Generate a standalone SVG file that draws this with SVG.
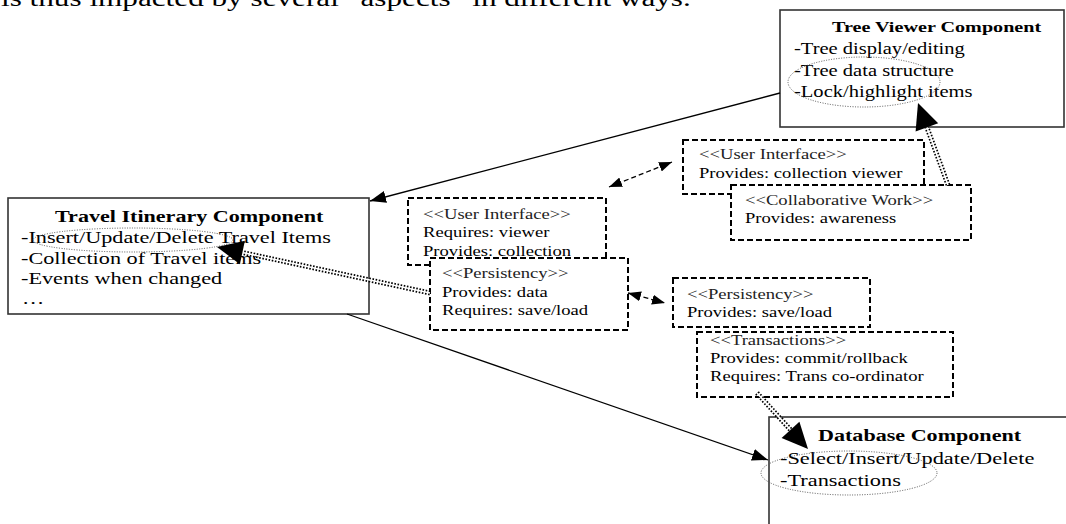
<svg xmlns="http://www.w3.org/2000/svg" width="1066" height="524" viewBox="0 0 1066 524">
<defs>
<style>
.t{font-family:"Liberation Serif","Times New Roman",serif;fill:#000}
.b{font-weight:bold}
.st{fill:#222}
.box{fill:#fff;stroke:#333;stroke-width:1.6}
.dbox{fill:#fff;stroke:#000;stroke-width:2;stroke-dasharray:6 3}
.ell{fill:none;stroke:#555;stroke-width:1;stroke-dasharray:1 1.5}
.ln{stroke:#000;stroke-width:1.3;fill:none}
.dl{stroke:#000;stroke-width:1.3;stroke-dasharray:5 3;fill:none}
.dd{stroke:#000;stroke-width:5;stroke-dasharray:1.6 1.6;fill:none}
.ddw{stroke:#fff;stroke-width:1.6;fill:none}
.ah{fill:#000}
</style>
<marker id="a" markerUnits="userSpaceOnUse" viewBox="0 0 16 12" refX="16" refY="6" markerWidth="16" markerHeight="12" orient="auto-start-reverse"><path d="M0,0L16,6L0,12z" fill="#000"/></marker>
<marker id="s" markerUnits="userSpaceOnUse" viewBox="0 0 13 10" refX="13" refY="5" markerWidth="13" markerHeight="10" orient="auto-start-reverse"><path d="M0,0L13,5L0,10z" fill="#000"/></marker>
</defs>
<rect width="1066" height="524" fill="#fff"/>

<text class="t" font-size="24" transform="translate(1 6) scale(1.3 1)">is thus impacted by several “aspects” in different ways.</text>

<g id="tree-viewer">
<rect class="box" x="780" y="10" width="284" height="117"/>
<text class="t b" font-size="15.5" transform="translate(832 32) scale(1.3 1)">Tree Viewer Component</text>
<text class="t" font-size="15.8" transform="translate(794 54) scale(1.3 1)">-Tree display/editing</text>
<text class="t" font-size="15.8" transform="translate(794 76) scale(1.3 1)">-Tree data structure</text>
<text class="t" font-size="15.8" transform="translate(794 97) scale(1.3 1)">-Lock/highlight items</text>
<ellipse class="ell" cx="864" cy="82" rx="76" ry="25"/>
</g>

<g id="travel-itinerary">
<rect class="box" x="8" y="198" width="361" height="116"/>
<text class="t b" font-size="17" transform="translate(55 222) scale(1.3 1)">Travel Itinerary Component</text>
<text class="t" font-size="17.1" transform="translate(21 243) scale(1.3 1)">-Insert/Update/Delete Travel Items</text>
<text class="t" font-size="17.1" transform="translate(21 264) scale(1.3 1)">-Collection of Travel items</text>
<text class="t" font-size="17.1" transform="translate(21 284) scale(1.3 1)">-Events when changed</text>
<text class="t" font-size="17.1" transform="translate(22 304) scale(1.3 1)">…</text>
<ellipse class="ell" cx="133" cy="240" rx="100" ry="12"/>
</g>

<g id="database">
<rect class="box" x="769" y="417" width="310" height="120"/>
<text class="t b" font-size="17" transform="translate(818 441) scale(1.3 1)">Database Component</text>
<text class="t" font-size="17.2" transform="translate(780 464) scale(1.3 1)">-Select/Insert/Update/Delete</text>
<text class="t" font-size="17.2" transform="translate(780 486) scale(1.3 1)">-Transactions</text>
<ellipse class="ell" cx="849" cy="473" rx="88" ry="22"/>
</g>

<g id="ui-right">
<rect class="dbox" x="683" y="140" width="241" height="54"/>
<text class="t st" font-size="14.3" transform="translate(699 159) scale(1.3 1)">&lt;&lt;User Interface&gt;&gt;</text>
<text class="t" font-size="14.3" transform="translate(699 178) scale(1.3 1)">Provides: collection viewer</text>
</g>
<g id="collab">
<rect class="dbox" x="731" y="185" width="240" height="55"/>
<text class="t st" font-size="14.3" transform="translate(745 205) scale(1.3 1)">&lt;&lt;Collaborative Work&gt;&gt;</text>
<text class="t" font-size="14.3" transform="translate(745 223) scale(1.3 1)">Provides: awareness</text>
</g>

<g id="ui-left">
<rect class="dbox" x="408" y="198" width="198" height="67"/>
<text class="t st" font-size="14.3" transform="translate(423 219) scale(1.3 1)">&lt;&lt;User Interface&gt;&gt;</text>
<text class="t" font-size="14.3" transform="translate(423 237) scale(1.3 1)">Requires: viewer</text>
<text class="t" font-size="14.3" transform="translate(423 256) scale(1.3 1)">Provides: collection</text>
</g>
<g id="persistency-left">
<rect class="dbox" x="430" y="258" width="198" height="72"/>
<text class="t st" font-size="14.3" transform="translate(442 278) scale(1.3 1)">&lt;&lt;Persistency&gt;&gt;</text>
<text class="t" font-size="14.3" transform="translate(442 297) scale(1.3 1)">Provides: data</text>
<text class="t" font-size="14.3" transform="translate(442 315) scale(1.3 1)">Requires: save/load</text>
</g>

<g id="persistency-right">
<rect class="dbox" x="673" y="278" width="197" height="49"/>
<text class="t st" font-size="14.3" transform="translate(687 299) scale(1.3 1)">&lt;&lt;Persistency&gt;&gt;</text>
<text class="t" font-size="14.3" transform="translate(687 317) scale(1.3 1)">Provides: save/load</text>
</g>
<g id="transactions">
<rect class="dbox" x="697" y="332" width="256" height="65"/>
<text class="t st" font-size="14.3" transform="translate(710 345) scale(1.3 1)">&lt;&lt;Transactions&gt;&gt;</text>
<text class="t" font-size="14.3" transform="translate(710 363) scale(1.3 1)">Provides: commit/rollback</text>
<text class="t" font-size="14.3" transform="translate(710 381) scale(1.3 1)">Requires: Trans co-ordinator</text>
</g>

<g id="connectors">
<line class="ln" x1="780" y1="93" x2="370" y2="201" marker-end="url(#a)"/>
<line class="ln" x1="347" y1="314" x2="768" y2="460" marker-end="url(#a)"/>
<line class="dl" x1="609" y1="187" x2="672" y2="162" marker-start="url(#s)" marker-end="url(#s)"/>
<line class="dl" x1="628" y1="293" x2="665" y2="303" marker-start="url(#s)" marker-end="url(#s)"/>

<line class="dd" x1="430" y1="293" x2="242.4" y2="252.5"/>
<line class="ddw" x1="430" y1="293" x2="242.4" y2="252.5"/>
<polygon class="ah" points="217,247 244.9,240.8 239.9,264.2"/>

<line class="dd" x1="948" y1="185" x2="926.9" y2="127.4"/>
<line class="ddw" x1="948" y1="185" x2="926.9" y2="127.4"/>
<polygon class="ah" points="918,103 938.2,123.3 915.6,131.5"/>

<line class="dd" x1="757" y1="393" x2="790.5" y2="429.8"/>
<line class="ddw" x1="757" y1="393" x2="790.5" y2="429.8"/>
<polygon class="ah" points="808,449 799.4,421.7 781.6,437.9"/>
</g>
</svg>
